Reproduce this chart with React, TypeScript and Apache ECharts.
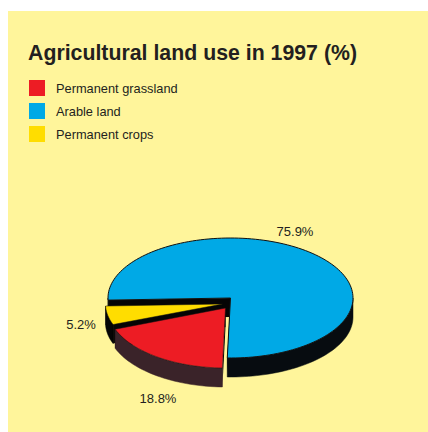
import React, { useEffect, useRef } from "react";
import * as echarts from "echarts";

const categories = ["Arable land", "Permanent grassland", "Permanent crops"];
const values = [75.9, 18.8, 5.2];
const legendOrder = ["Permanent grassland", "Arable land", "Permanent crops"];
const valueLabels = ["75.9%", "18.8%", "5.2%"];
const colors = ["#00A9E6", "#ED1C24", "#FFDD00"];
const sideColors = ["#070C10", "#3A2329", "#050505"];

const RADII_X = [122.5, 118, 117];
const RADII_Y = [60, 60, 58];
const DEPTH = 19;
const START_DEG = 178;
const CENTERS = [
  [230.5, 298],
  [225.5, 308],
  [222.5, 304],
];
const LABEL_POS = [
  [295, 231],
  [158, 398],
  [81, 324],
];
const SERIES_Z = [2, 4, 3];

function arc(idx: number, cx: number, cy: number, a0: number, a1: number) {
  const pts: number[][] = [];
  const n = Math.max(8, Math.ceil(Math.abs(a1 - a0) / 2));
  for (let i = 0; i <= n; i++) {
    const a = ((a0 + ((a1 - a0) * i) / n) * Math.PI) / 180;
    pts.push([cx + RADII_X[idx] * Math.cos(a), cy + RADII_Y[idx] * Math.sin(a)]);
  }
  return pts;
}

function makeRender(idx: number) {
  const total = values.reduce((s, v) => s + v, 0);
  const before = values.slice(0, idx).reduce((s, v) => s + v, 0);
  const a0 = START_DEG + (before / total) * 360;
  const a1 = a0 + (values[idx] / total) * 360;
  const [cx, cy] = CENTERS[idx];
  return () => {
    const top = arc(idx, cx, cy, a0, a1);
    const children: any[] = [];
    // cut walls
    [top[0], top[top.length - 1]].forEach((p) => {
      children.push({
        type: "polygon",
        shape: {
          points: [
            [cx, cy],
            p,
            [p[0], p[1] + DEPTH],
            [cx, cy + DEPTH],
          ],
        },
        style: { fill: "#050505" },
      });
    });
    // outer rim: only the part of the arc facing the viewer
    for (let k = 0; k < 2; k++) {
      const lo = Math.max(a0, k * 360);
      const hi = Math.min(a1, k * 360 + 180);
      if (hi > lo) {
        const up = arc(idx, cx, cy, lo, hi);
        const down = arc(idx, cx, cy + DEPTH, lo, hi).reverse();
        children.push({
          type: "polygon",
          shape: { points: up.concat(down) },
          style: { fill: sideColors[idx], stroke: sideColors[idx], lineWidth: 0.5 },
        });
      }
    }
    children.push({
      type: "polygon",
      shape: { points: [[cx, cy], ...top] },
      style: { fill: colors[idx], stroke: "#111111", lineWidth: idx === 0 ? 1 : 0.5 },
    });
    children.push({
      type: "text",
      x: LABEL_POS[idx][0],
      y: LABEL_POS[idx][1],
      style: {
        text: valueLabels[idx],
        fill: "#231F20",
        font: '13px "Liberation Sans", sans-serif',
        align: "center",
        verticalAlign: "middle",
      },
    });
    return { type: "group", children };
  };
}

export default function App() {
  const ref = useRef<HTMLDivElement>(null);
  useEffect(() => {
    document.body.style.margin = "0";
    const chart = echarts.init(ref.current!, undefined, { renderer: "svg" });
    chart.setOption({
      animation: false,
      backgroundColor: "#FFFFFF",
      title: {
        text: "Agricultural land use in 1997 (%)",
        left: 28,
        top: 42,
        padding: 0,
        textStyle: {
          fontFamily: '"Liberation Sans", Arial, sans-serif',
          fontWeight: "bold",
          fontSize: 21.3,
          color: "#231F20",
        },
      },
      legend: {
        data: legendOrder,
        orient: "vertical",
        left: 29,
        top: 80,
        padding: 0,
        icon: "rect",
        itemWidth: 16,
        itemHeight: 16,
        itemGap: 7,
        selectedMode: false,
        textStyle: {
          fontFamily: '"Liberation Sans", sans-serif',
          fontSize: 12.8,
          color: "#231F20",
          padding: [0, 0, 0, 6],
        },
      },
      graphic: [
        {
          type: "rect",
          z: -10,
          silent: true,
          shape: { x: 8, y: 11, width: 420, height: 421 },
          style: { fill: "#FFF59B" },
        },
      ],
      series: categories.map((name, i) => ({
        type: "custom",
        name,
        coordinateSystem: "none",
        silent: true,
        itemStyle: { color: colors[i] },
        z: SERIES_Z[i],
        data: [[values[i]]],
        renderItem: makeRender(i),
      })),
    });
    return () => chart.dispose();
  }, []);
  return <div ref={ref} style={{ width: 428, height: 432 }} />;
}
